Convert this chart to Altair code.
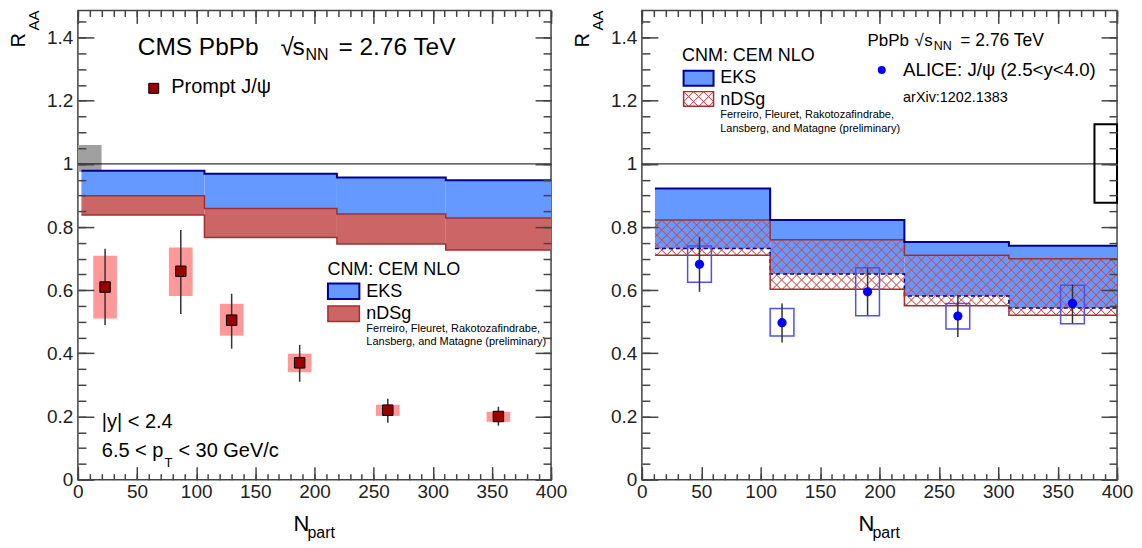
import math
import altair as alt
import pandas as pd

FONT = "Liberation Sans"

# ---------------- axis ticks / labels ----------------
X_MAJOR = [0, 50, 100, 150, 200, 250, 300, 350, 400]
X_MINOR = list(range(0, 401, 10))
Y_MAJOR = [0, 0.2, 0.4, 0.6, 0.8, 1.0, 1.2, 1.4]
Y_MINOR = [round(0.05 * i, 2) for i in range(30)]

# ---------------- left panel: CMS prompt J/psi ----------------
cms_npart = [23, 87, 130, 187.5, 262, 355.5]
cms_raa = [0.61, 0.66, 0.505, 0.37, 0.22, 0.20]
cms_stat_lo = [0.49, 0.525, 0.415, 0.31, 0.18, 0.171]
cms_stat_hi = [0.731, 0.791, 0.589, 0.427, 0.256, 0.231]
cms_syst_lo = [0.51, 0.582, 0.456, 0.34, 0.202, 0.183]
cms_syst_hi = [0.709, 0.735, 0.557, 0.399, 0.237, 0.215]
cms_global_x = [0, 20]
cms_global_y = [0.975, 1.06]

left_edges = [3, 107, 219, 311, 400]
left_eks_hi = [0.978, 0.969, 0.957, 0.948]
left_eks_lo = [0.899, 0.859, 0.841, 0.829]
left_nds_hi = [0.899, 0.859, 0.841, 0.829]
left_nds_lo = [0.838, 0.767, 0.746, 0.727]

# ---------------- right panel: ALICE J/psi ----------------
alice_npart = [48.5, 118, 190, 266, 362.5]
alice_raa = [0.682, 0.497, 0.595, 0.518, 0.558]
alice_stat_lo = [0.595, 0.434, 0.521, 0.452, 0.495]
alice_stat_hi = [0.769, 0.558, 0.669, 0.582, 0.618]
alice_syst_lo = [0.625, 0.455, 0.519, 0.477, 0.494]
alice_syst_hi = [0.740, 0.542, 0.671, 0.558, 0.616]
alice_global_x = [381, 400]
alice_global_y = [0.877, 1.126]

right_edges = [11, 108, 221, 309, 400]
right_eks_hi = [0.922, 0.822, 0.753, 0.741]
right_eks_lo = [0.732, 0.651, 0.582, 0.544]
right_nds_hi = [0.822, 0.760, 0.711, 0.700]
right_nds_lo = [0.711, 0.603, 0.551, 0.521]

BOX_HALF = 10  # half width of systematic boxes in Npart units
UNITY = 1.0

# ---------------- geometry ----------------
W_L, W_R, H = 474, 476, 470
YMAX = 1.486

XS = alt.Scale(domain=[0, 400], nice=False, zero=False)
YS = alt.Scale(domain=[0, YMAX], nice=False, zero=False)
ONE = pd.DataFrame({"k": [0]})

BLUE = "#6699FF"
NAVY = "#000099"
RED_FILL = "#CC6666"
RED_LINE = "#A03030"
HATCH_COLOR = "#D04848"
HATCH_CLEAR = "rgba(208,72,72,0)"
HATCH_P = 10.0   # hatch period (px, along x)
HATCH_HW = 1.2   # half line width (px, along x)


def ex(f):
    return alt.X(f, type="quantitative", scale=XS, axis=None)


def ey(f):
    return alt.Y(f, type="quantitative", scale=YS, axis=None)


def band_table(edges, lo, hi):
    return pd.DataFrame({"x": edges[:-1], "x2": edges[1:], "lo": lo, "hi": hi})


def step_table(edges, vals):
    return pd.DataFrame({"x": list(edges), "y": list(vals) + [vals[-1]]})


def pts_table(n, r, slo, shi, ylo, yhi):
    return pd.DataFrame({
        "n": n, "r": r, "slo": slo, "shi": shi, "ylo": ylo, "yhi": yhi,
        "bx1": [v - BOX_HALF for v in n], "bx2": [v + BOX_HALF for v in n],
    })


def band(df, **mark):
    return alt.Chart(df).mark_rect(**mark).encode(
        x=ex("x"), x2="x2", y=ey("lo"), y2="hi")


def step(edges, vals, **mark):
    return alt.Chart(step_table(edges, vals)).mark_line(
        interpolate="step-after", **mark).encode(x=ex("x"), y=ey("y"))


def unity():
    df = pd.DataFrame({"x": [0], "x2": [400], "y": [UNITY]})
    return alt.Chart(df).mark_rule(color="black", strokeWidth=1).encode(
        x=ex("x"), x2="x2", y=ey("y"))


def gbox(xr, yr, **mark):
    df = pd.DataFrame({"x": [xr[0]], "x2": [xr[1]], "lo": [yr[0]], "hi": [yr[1]]})
    return band(df, **mark)


def hatch_gradient(w, h, x0, y0, direction):
    """Diagonal stripe gradient (object bounding box units) for a w x h box
    whose top-left corner is at pixel (x0, y0); stripes are phase-locked to
    the pixel grid so neighbouring boxes share one pattern."""
    L = w + h
    r = h / w
    s = (1 + r) / (1 + r * r)
    if direction == "a":      # lines along x - y = const
        base = x0 - y0
        lo_c = -h
        geo = dict(x1=0, y1=1, x2=s, y2=1 - s * r)
    else:                     # lines along x + y = const
        base = x0 + y0
        lo_c = 0.0
        geo = dict(x1=0, y1=0, x2=s, y2=s * r)
    stops = [(0.0, HATCH_CLEAR)]
    k = math.floor((lo_c + base - HATCH_HW) / HATCH_P)
    while True:
        c = k * HATCH_P - base          # local stripe centre
        t = (c - lo_c) / L
        if t - HATCH_HW / L > 1:
            break
        for off, col in ((t - HATCH_HW / L, HATCH_CLEAR), (t, HATCH_COLOR),
                         (t + HATCH_HW / L, HATCH_CLEAR)):
            off = min(1.0, max(0.0, off))
            if off >= stops[-1][0]:
                stops.append((off, col))
        k += 1
    stops.append((1.0, HATCH_CLEAR))
    return dict(gradient="linear", stops=[dict(offset=o, color=c) for o, c in stops],
                **geo)


def hatch_band(edges, lo, hi, width):
    px = width / 400.0
    py = H / YMAX
    layers = []
    for i in range(len(lo)):
        df = pd.DataFrame({"x": [edges[i]], "x2": [edges[i + 1]],
                           "lo": [lo[i]], "hi": [hi[i]]})
        w = (edges[i + 1] - edges[i]) * px
        h = (hi[i] - lo[i]) * py
        x0 = edges[i] * px
        y0 = (YMAX - hi[i]) * py
        for d in ("a", "b"):
            layers.append(band(df, fill=hatch_gradient(w, h, x0, y0, d)))
    return layers


def text(t, x, y, size, angle=None, color="black"):
    kw = dict(text=t, align="left", baseline="alphabetic", fontSize=size,
              font=FONT, color=color)
    if angle is not None:
        kw["angle"] = angle
    return alt.Chart(ONE).mark_text(**kw).encode(x=alt.value(x), y=alt.value(y))


def pbox(x1, x2, y1, y2, **mark):
    return alt.Chart(ONE).mark_rect(**mark).encode(
        x=alt.value(x1), x2=alt.value(x2), y=alt.value(y1), y2=alt.value(y2))


def axis_layers():
    d = pd.DataFrame({"x": [0.0], "y": [0.0]})
    common = dict(grid=False, title=None, labelFont=FONT, labelColor="#222",
                  tickColor="#444", tickWidth=1.5)
    xl = alt.Axis(orient="bottom", values=X_MAJOR, format="d", ticks=False,
                  tickSize=0, domain=False, labelFontSize=19, labelPadding=3,
                  labelFlush=False, labelOverlap=False, **common)
    yl = alt.Axis(orient="left", values=Y_MAJOR, format="~g", ticks=False,
                  tickSize=0, domain=False, labelFontSize=19, labelPadding=5,
                  labelFlush=False, labelOverlap=False, minExtent=68,
                  maxExtent=68, **common)

    def tk(orient, vals, size):
        return alt.Axis(orient=orient, values=vals, ticks=True, tickSize=size,
                        offset=-size, labels=False, domain=False, minExtent=0,
                        maxExtent=0, zindex=1, **common)

    specs = [
        (xl, yl),
        (tk("bottom", X_MAJOR, 13), tk("left", Y_MAJOR, 16)),
        (tk("bottom", X_MINOR, 6), tk("left", Y_MINOR, 8)),
        (tk("top", X_MAJOR, 13), tk("right", Y_MAJOR, 16)),
        (tk("top", X_MINOR, 6), tk("right", Y_MINOR, 8)),
    ]
    return [
        alt.Chart(d).mark_point(opacity=0).encode(
            x=alt.X("x:Q", scale=XS, axis=ax), y=alt.Y("y:Q", scale=YS, axis=ay))
        for ax, ay in specs
    ]


def axis_titles(width):
    c = width / 2.0
    return [
        text("R", -53, 37, 20, angle=270),
        text("AA", -39, 20, 15, angle=270),
        text("N", c - 21, 521, 22),
        text("part", c - 7, 528, 16),
    ]


# ---------------- left panel ----------------
cms = pts_table(cms_npart, cms_raa, cms_stat_lo, cms_stat_hi, cms_syst_lo, cms_syst_hi)

left_layers = [
    gbox(cms_global_x, cms_global_y, color="#A0A0A0"),
    unity(),
    band(band_table(left_edges, left_eks_lo, left_eks_hi), color=BLUE),
    band(band_table(left_edges, left_nds_lo, left_nds_hi), color=RED_FILL),
    step(left_edges, left_eks_hi, color=NAVY, strokeWidth=2),
    step(left_edges, left_nds_hi, color=RED_LINE, strokeWidth=1.5),
    step(left_edges, left_nds_lo, color=RED_LINE, strokeWidth=1.5),
    alt.Chart(cms).mark_rect(color="#FF9999").encode(
        x=ex("bx1"), x2="bx2", y=ey("ylo"), y2="yhi"),
    alt.Chart(cms).mark_rule(color="#333333", strokeWidth=1.5).encode(
        x=ex("n"), y=ey("slo"), y2="shi"),
    alt.Chart(cms).mark_point(shape="square", filled=True, fill="#990000",
                              stroke="black", strokeWidth=1, size=110,
                              opacity=1).encode(x=ex("n"), y=ey("r")),
    # texts
    text("CMS PbPb", 60, 45, 24.5),
    text("√", 203, 45, 24.5),
    text("s", 215, 45, 24.5),
    text("NN", 228, 50, 16),
    text("= 2.76 TeV", 261, 45, 24.5),
    alt.Chart(ONE).mark_point(shape="square", filled=True, fill="#990000",
                              stroke="black", strokeWidth=1, size=100,
                              opacity=1).encode(x=alt.value(76), y=alt.value(78)),
    text("Prompt J/ψ", 93.6, 82.7, 20),
    text("CNM: CEM NLO", 250, 265, 18),
    pbox(250.5, 282, 273.5, 289, fill=BLUE, stroke=NAVY, strokeWidth=2),
    text("EKS", 289, 287, 18),
    pbox(250.5, 282, 296, 311.5, fill=RED_FILL, stroke=RED_LINE, strokeWidth=1.5),
    text("nDSg", 289, 309.5, 18),
    text("Ferreiro, Fleuret, Rakotozafindrabe,", 289, 322, 11),
    text("Lansberg, and Matagne (preliminary)", 289, 335.5, 11),
    text("|y| < 2.4", 24, 418.7, 20),
    text("6.5 < p", 24, 447, 20),
    text("T", 86.7, 457, 13),
    text("< 30 GeV/c", 100.7, 447, 20),
]

left = alt.layer(*axis_layers(), *left_layers, *axis_titles(W_L)).properties(
    width=W_L, height=H).resolve_axis(x="independent", y="independent")

# ---------------- right panel ----------------
alice = pts_table(alice_npart, alice_raa, alice_stat_lo, alice_stat_hi,
                  alice_syst_lo, alice_syst_hi)

LEG_W, LEG_H = 30.0, 14.7
right_layers = [
    band(band_table(right_edges, right_eks_lo, right_eks_hi), color=BLUE),
    *hatch_band(right_edges, right_nds_lo, right_nds_hi, W_R),
    step(right_edges, right_eks_lo, color=NAVY, strokeWidth=1.5, strokeDash=[4, 3]),
    step(right_edges, right_nds_hi, color=RED_LINE, strokeWidth=1.5),
    step(right_edges, right_nds_lo, color=RED_LINE, strokeWidth=1.5),
    step(right_edges, right_eks_hi, color=NAVY, strokeWidth=2),
    unity(),
    gbox(alice_global_x, alice_global_y, fillOpacity=0, stroke="black",
         strokeWidth=2),
    alt.Chart(alice).mark_rect(fillOpacity=0, stroke="#5050F0",
                               strokeWidth=1.5).encode(
        x=ex("bx1"), x2="bx2", y=ey("ylo"), y2="yhi"),
    alt.Chart(alice).mark_rule(color="#333333", strokeWidth=1.5).encode(
        x=ex("n"), y=ey("slo"), y2="shi"),
    alt.Chart(alice).mark_point(shape="circle", filled=True, fill="#0000FF",
                                size=86, opacity=1).encode(x=ex("n"), y=ey("r")),
    # texts
    text("CNM: CEM NLO", 40.2, 50.3, 18),
    pbox(41.8, 71.8, 60.3, 75.3, fill=BLUE, stroke=NAVY, strokeWidth=2),
    text("EKS", 78.5, 72.7, 18),
    pbox(41.8, 71.8, 81.3, 96, fill=hatch_gradient(LEG_W, LEG_H, 0, 0, "a")),
    pbox(41.8, 71.8, 81.3, 96, fill=hatch_gradient(LEG_W, LEG_H, 0, 0, "b"),
         stroke=RED_LINE, strokeWidth=1.5),
    text("nDSg", 78.5, 94.7, 18),
    text("Ferreiro, Fleuret, Rakotozafindrabe,", 78.5, 108, 11),
    text("Lansberg, and Matagne (preliminary)", 78.5, 122, 11),
    text("PbPb", 226, 35.3, 17),
    text("√", 273, 35.3, 17),
    text("s", 283, 35.3, 17),
    text("NN", 292.5, 40, 12.5),
    text("= 2.76 TeV", 319, 35.3, 17.5),
    alt.Chart(ONE).mark_point(shape="circle", filled=True, fill="#0000FF",
                              size=64, opacity=1).encode(
        x=alt.value(240.3), y=alt.value(59.7)),
    text("ALICE: J/ψ (2.5<y<4.0)", 261.7, 66, 18.7),
    text("arXiv:1202.1383", 261.7, 92, 14.4),
]

right = alt.layer(*axis_layers(), *right_layers, *axis_titles(W_R)).properties(
    width=W_R, height=H).resolve_axis(x="independent", y="independent")

chart = alt.hconcat(left, right, spacing=91, bounds="flush").properties(
    padding=0).configure_view(stroke="#444444", strokeWidth=1.5)

chart.save("out.html", embed_options={"renderer": "svg", "actions": False})
